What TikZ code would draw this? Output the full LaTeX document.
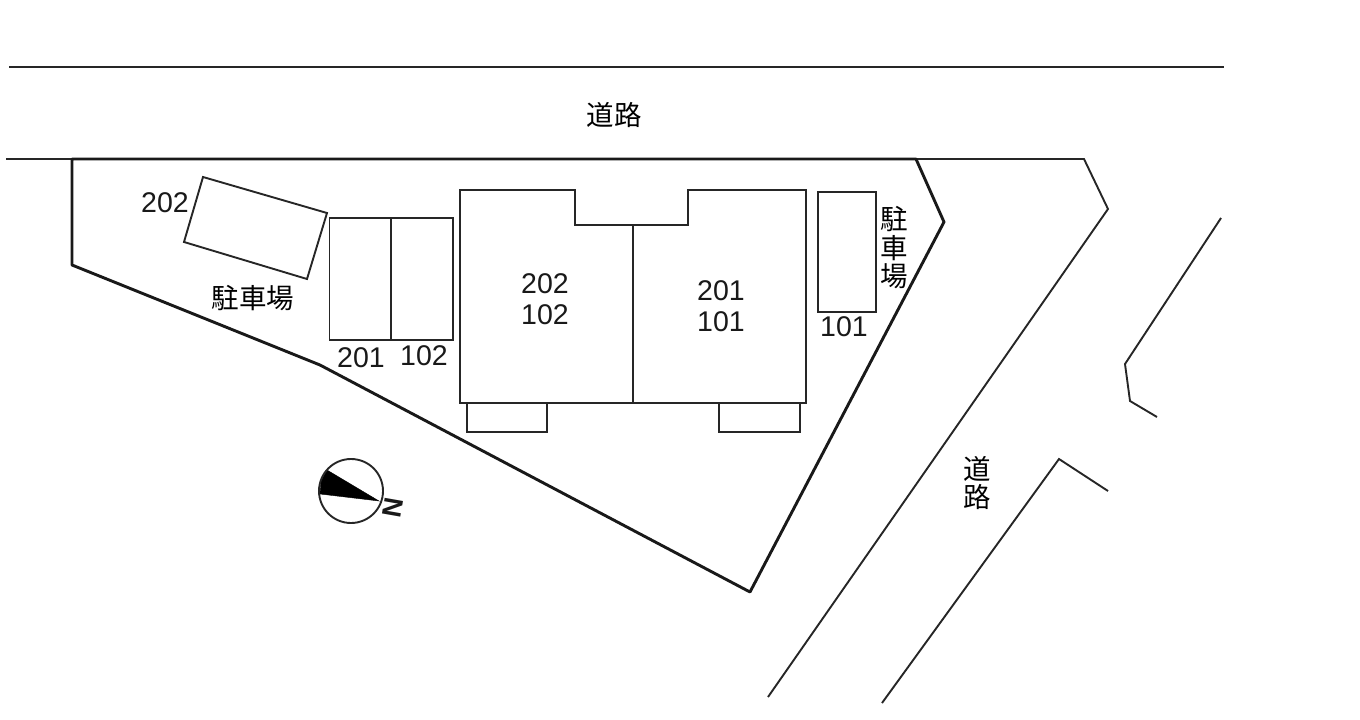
\documentclass[tikz,border=0pt]{standalone}
\usepackage{fontspec}
\setmainfont{Liberation Sans}
\newfontfamily\jpfont{Noto Sans CJK JP}
\usetikzlibrary{calc}
\tikzset{
  thinline/.style={line width=1.9pt,black!85},
  lotline/.style={line width=2.9pt,black!90},
  roomno/.style={inner sep=0pt,font=\fontsize{28.5}{28.5}\selectfont,black!90},
  jplabel/.style={inner sep=0pt,align=center,font=\jpfont\fontsize{27.5}{28.5}\selectfont,black}
}

\begin{document}
\begin{tikzpicture}[x=1pt,y=-1pt]
\useasboundingbox (0,0) rectangle (1360,720);
\coordinate (o) at (72,159);
\coordinate (a) at (916,159);
\coordinate (b) at (944,222);
\coordinate (c) at (750,592);
\coordinate (d) at (320,365);
\coordinate (e) at (72,265);
\coordinate (hall1) at (575,225);
\coordinate (hall2) at (688,225);
\coordinate (mid1) at ($(hall1)!0.51!(hall2)$);
\coordinate (mid2) at (mid1 |- 0,403);
% roads
\draw[thinline] (9,67) -- (1224,67);
\draw[thinline] (6,159) -- (o);
\draw[thinline] (a) -- (1084,159) -- (1108,209) -- (768,697);
\draw[thinline] (882,703) -- (1059,459) -- (1108,491);
\draw[thinline] (1157,417) -- (1130,401) -- (1125,364) -- (1221,218);
% lot
\draw[lotline,line join=round] (o) -- (a) -- (b) -- (c) -- (d) -- (e) -- cycle;
% parking
\draw[thinline] (203,177) -- (327,213) -- (307,279) -- (184,242) -- cycle;
\draw[thinline] (329.5,218) rectangle (453,340);
\draw[thinline] (391,218) -- (391,340);
\draw[thinline] (818,192) rectangle (876,312);
% building
\draw[thinline] (460,190) -- (575,190) -- (hall1) -- (hall2) -- (688,190) -- (806,190) -- (806,403) -- (460,403) -- cycle;
\draw[thinline] (mid1) -- (mid2);
\draw[thinline] (467,403) -- (467,432) -- (547,432) -- (547,403);
\draw[thinline] (719,403) -- (719,432) -- (800,432) -- (800,403);
% north mark
\coordinate (n) at (351,491);
\filldraw[black] (327,470) -- (379,501) -- (320,494) -- (321,481) -- cycle;
\draw[thinline] (n) circle (32);
\node[roomno,rotate=-100,font=\bfseries\fontsize{27}{27}\selectfont] (north) at (393,508) {N};
% labels
\node[jplabel] (road1) at (614,115) {道路};
\node[jplabel] (road2) at (977,483) {道\\路};
\node[jplabel] (park1) at (253,298) {駐車場};
\node[jplabel] (park2) at (894,248) {駐\\車\\場};
\node[roomno] (p202) at (165,203) {202};
\node[roomno] (p201) at (361,358) {201};
\node[roomno] (p102) at (424,356) {102};
\node[roomno] (p101) at (844,327) {101};
\node[roomno] (r202) at (545,284) {202};
\node[roomno] (r102) at (545,315) {102};
\node[roomno] (r201) at (721,291) {201};
\node[roomno] (r101) at (721,322) {101};
\end{tikzpicture}
\end{document}
